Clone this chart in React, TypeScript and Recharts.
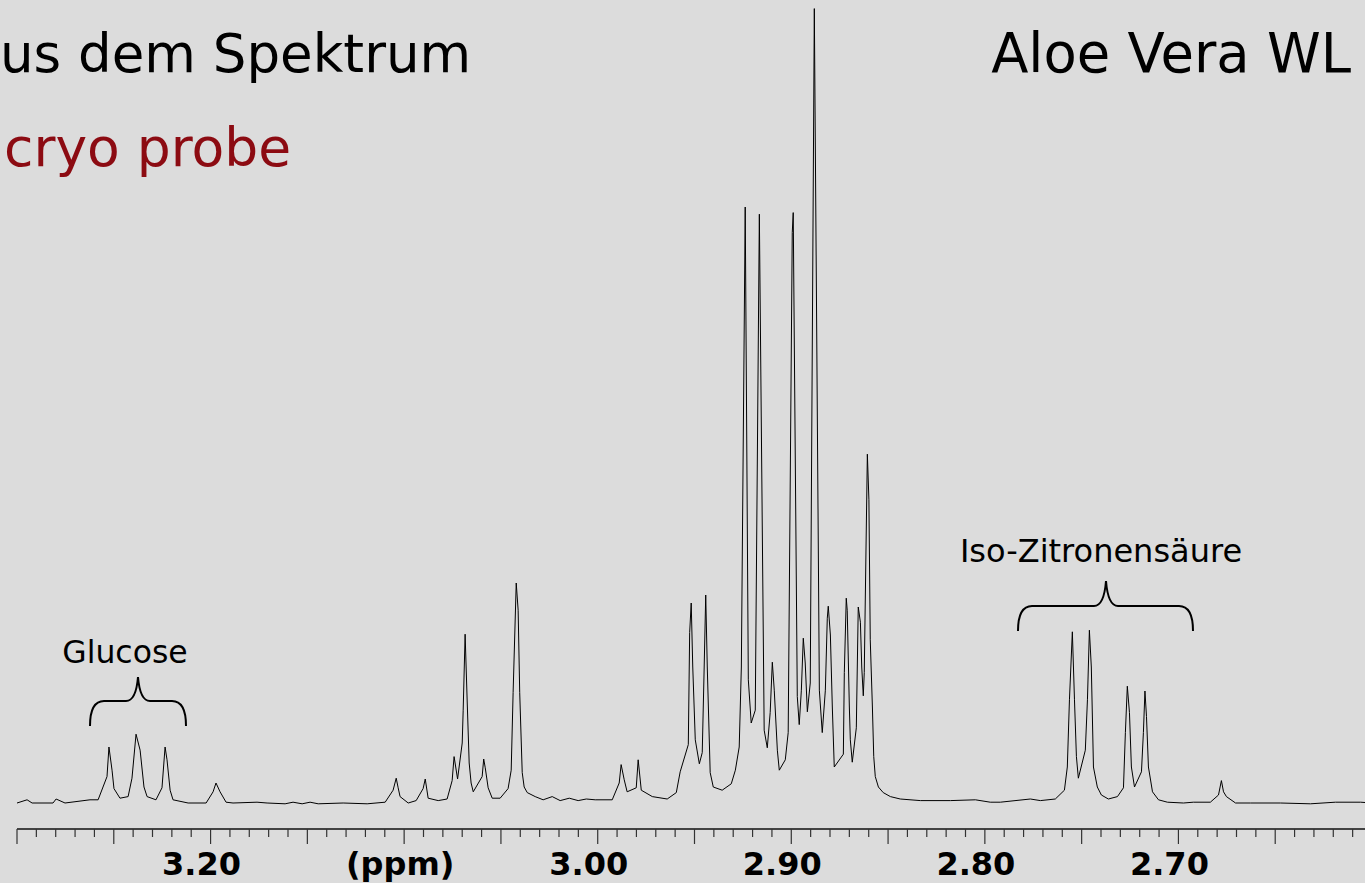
import React from "react";
import { LineChart, Line, XAxis, YAxis } from "recharts";

// [ppm, intensity], region by region (left = high ppm)
const glucoseRegion: [number, number][] = [
  [3.3, 0.0], [3.2948, 0.4], [3.2922, 0.0], [3.2814, 0.0], [3.2798, 0.5], [3.2752, 0.0],
  [3.2623, 0.4], [3.2581, 0.4], [3.2535, 3.3], [3.2525, 7.0], [3.2509, 4.1], [3.2499, 1.8],
  [3.2468, 0.6], [3.2426, 0.8], [3.2406, 3.1], [3.2385, 8.6], [3.2364, 6.6], [3.2344, 2.0],
  [3.2328, 0.8], [3.2282, 0.4], [3.2251, 1.9], [3.2235, 7.0], [3.2225, 5.4], [3.2209, 1.6],
  [3.2194, 0.4], [3.2116, 0.0], [3.2023, 0.0], [3.1987, 1.4], [3.1972, 2.5], [3.1951, 1.4],
  [3.192, 0.1], [3.1884, 0.0], [3.176, 0.1], [3.1708, 0.0], [3.1615, -0.1], [3.1574, 0.1],
  [3.1527, -0.1], [3.1486, 0.1], [3.1444, -0.1], [3.1315, 0.0], [3.1191, -0.1],
];

const midRegion: [number, number][] = [
  [3.1098, 0.1], [3.1057, 1.6], [3.1041, 3.1], [3.1031, 1.9], [3.1021, 0.8], [3.0979, 0.0],
  [3.0938, 0.3], [3.0902, 1.8], [3.0891, 3.0], [3.0876, 0.6], [3.0824, 0.3], [3.0778, 0.5],
  [3.0752, 2.8], [3.0742, 5.8], [3.0724, 3.0], [3.07, 7.5], [3.0695, 11.6], [3.0685, 21.1],
  [3.0674, 12.5], [3.0664, 5.0], [3.0654, 2.5], [3.0643, 1.4], [3.0597, 3.3], [3.0589, 5.5],
  [3.0581, 4.4], [3.0566, 1.9], [3.0545, 0.6], [3.0504, 0.6], [3.0463, 1.8], [3.0447, 4.1],
  [3.0437, 13.8], [3.0421, 27.5], [3.0411, 24.1], [3.0403, 13.8], [3.039, 3.8], [3.038, 2.0],
  [3.0364, 1.3], [3.0323, 0.8], [3.0282, 0.4], [3.0235, 0.8], [3.0194, 0.3], [3.0147, 0.6],
  [3.0101, 0.3], [3.0059, 0.5], [3.0013, 0.4], [2.9925, 0.4], [2.9889, 2.5], [2.9879, 4.8],
  [2.9863, 2.9], [2.9848, 1.4], [2.9801, 1.9], [2.9791, 5.4], [2.9775, 1.6], [2.9718, 0.8],
];

const clusterRegion: [number, number][] = [
  [2.9641, 0.5], [2.9594, 1.3], [2.9574, 3.9], [2.9532, 7.3], [2.9525, 21.3], [2.9517, 25.0],
  [2.9509, 17.0], [2.9496, 7.9], [2.9475, 4.9], [2.946, 6.3], [2.945, 17.0], [2.9442, 26.0],
  [2.9434, 17.0], [2.9419, 3.8], [2.9403, 2.0], [2.9357, 1.6], [2.931, 2.4], [2.9289, 4.1],
  [2.9269, 7.0], [2.9258, 17.0], [2.9238, 74.5], [2.9222, 15.4], [2.9207, 10.0], [2.9186, 11.6],
  [2.9165, 73.6], [2.914, 9.1], [2.9124, 6.9], [2.9109, 11.3], [2.9098, 17.6], [2.9088, 14.1],
  [2.9072, 6.6], [2.9062, 4.1], [2.9031, 5.4], [2.9016, 8.8], [2.8995, 71.3], [2.899, 73.8],
  [2.8969, 13.3], [2.8959, 9.8], [2.8948, 14.1], [2.8938, 20.6], [2.8928, 17.5], [2.8917, 11.4],
  [2.8902, 15.0], [2.8881, 99.3], [2.8855, 14.1], [2.884, 8.8], [2.8824, 14.1], [2.8814, 23.1],
  [2.8809, 24.6], [2.8798, 21.0], [2.8788, 12.0], [2.8778, 4.5], [2.8731, 6.1], [2.8726, 16.3],
  [2.8716, 25.6], [2.8711, 24.1], [2.87, 12.0], [2.8695, 7.9], [2.8685, 5.1], [2.8664, 9.4],
  [2.8659, 17.0], [2.8654, 24.5], [2.8643, 22.6], [2.8636, 17.0], [2.8628, 13.4], [2.8623, 16.3],
  [2.8615, 30.0], [2.8607, 43.6], [2.8599, 37.9], [2.8592, 20.4], [2.8581, 12.0], [2.8574, 5.8],
  [2.8566, 3.3], [2.855, 2.0], [2.8525, 1.3], [2.8488, 0.8], [2.8437, 0.5], [2.8333, 0.3],
];

const isoRegion: [number, number][] = [
  [2.8178, 0.3], [2.8049, 0.4], [2.7972, 0.1], [2.792, 0.1], [2.7765, 0.5], [2.7713, 0.3],
  [2.7636, 0.5], [2.7589, 1.6], [2.7574, 4.5], [2.7563, 12.9], [2.7548, 21.4], [2.7537, 12.9],
  [2.7527, 5.8], [2.7517, 3.1], [2.7481, 6.6], [2.747, 12.9], [2.746, 21.6], [2.745, 17.0],
  [2.7439, 4.5], [2.7419, 2.0], [2.7398, 1.0], [2.7362, 0.5], [2.7315, 0.8], [2.7284, 1.9],
  [2.7274, 8.8], [2.7264, 14.6], [2.7253, 11.3], [2.7243, 4.5], [2.7227, 2.0], [2.7191, 3.9],
  [2.7181, 8.8], [2.7173, 14.0], [2.7165, 10.8], [2.7155, 4.5], [2.7134, 1.4], [2.7103, 0.4],
  [2.7057, 0.1], [2.6974, 0.0], [2.6923, 0.1], [2.6835, 0.1], [2.6793, 1.0], [2.6778, 2.8],
  [2.6767, 1.4], [2.6752, 0.8], [2.6705, 0.0], [2.6628, 0.0], [2.6473, 0.0], [2.6318, -0.1],
  [2.6189, 0.1], [2.6059, 0.1], [2.6, 0.0],
];

// labelled ticks on the ppm axis
const tickLabels: Record<string, string> = {
  "3.20": "3.20",
  "3.10": "(ppm)",
  "3.00": "3.00",
  "2.90": "2.90",
  "2.80": "2.80",
  "2.70": "2.70",
};

const data = [...glucoseRegion, ...midRegion, ...clusterRegion, ...isoRegion].map(
  ([ppm, intensity]) => ({ ppm, intensity })
);

// one tick every 0.01 ppm
const ticks = Array.from({ length: 71 }, (_, i) => Math.round(260 + i) / 100);

const FONT = "'DejaVu Sans', Verdana, sans-serif";

const PpmTick = (props: any) => {
  const { x, y, payload } = props;
  const v = payload.value as number;
  const major = Math.round(v * 100) % 5 === 0;
  const key = v.toFixed(2);
  const label = tickLabels[key];
  const shift = label === "(ppm)" ? -4 : -9;
  return (
    <g>
      <line x1={x} x2={x} y1={y} y2={y + (major ? 15 : 8)} stroke="#333" strokeWidth={1.2} />
      {label && (
        <text
          x={x + shift}
          y={y + 46}
          textAnchor="middle"
          fontFamily={FONT}
          fontWeight="bold"
          fontSize={32}
          fill="#000"
        >
          {label}
        </text>
      )}
    </g>
  );
};

const brace = (xL: number, xR: number, xm: number, h: number, yt: number, yb: number) =>
  `M ${xL} ${yb} Q ${xL} ${h} ${xL + 14} ${h} L ${xm - 12} ${h} Q ${xm - 2} ${h} ${xm} ${yt} ` +
  `Q ${xm + 2} ${h} ${xm + 12} ${h} L ${xR - 14} ${h} Q ${xR} ${h} ${xR} ${yb}`;

export default function App() {
  return (
    <div
      style={{
        position: "absolute",
        left: 0,
        top: 0,
        width: 1365,
        height: 883,
        overflow: "hidden",
        background: "#dcdcdc",
      }}
    >
      <LineChart
        width={1372}
        height={883}
        data={data}
        margin={{ top: 0, right: 0, left: 17, bottom: 0 }}
      >
        <XAxis
          dataKey="ppm"
          type="number"
          domain={[2.6, 3.3]}
          reversed
          allowDataOverflow
          ticks={ticks}
          interval={0}
          height={54}
          tickLine={false}
          tickSize={0}
          tickMargin={0}
          axisLine={{ stroke: "#111", strokeWidth: 1.5 }}
          tick={<PpmTick />}
        />
        <YAxis hide width={0} domain={[-3.25, 100.375]} allowDataOverflow />
        <Line
          type="linear"
          dataKey="intensity"
          stroke="#000"
          strokeWidth={1}
          dot={false}
          isAnimationActive={false}
        />
      </LineChart>
      <svg
        width={1365}
        height={883}
        style={{ position: "absolute", left: 0, top: 0, pointerEvents: "none" }}
      >
        <text x={0} y={72} fontFamily={FONT} fontSize={53} fill="#000">
          us dem Spektrum
        </text>
        <text x={4} y={166} fontFamily={FONT} fontSize={53.5} fill="#8c0b12">
          cryo probe
        </text>
        <text x={1351} y={72} textAnchor="end" fontFamily={FONT} fontSize={54.4} fill="#000">
          Aloe Vera WL
        </text>
        <text x={125} y={663} textAnchor="middle" fontFamily={FONT} fontSize={31.5} fill="#000">
          Glucose
        </text>
        <text x={1101} y={562} textAnchor="middle" fontFamily={FONT} fontSize={32} fill="#000">
          Iso-Zitronensäure
        </text>
        <path d={brace(90, 186, 138, 701, 677, 726)} fill="none" stroke="#000" strokeWidth={2} />
        <path d={brace(1018, 1193, 1106, 606, 581, 631)} fill="none" stroke="#000" strokeWidth={2} />
      </svg>
    </div>
  );
}
